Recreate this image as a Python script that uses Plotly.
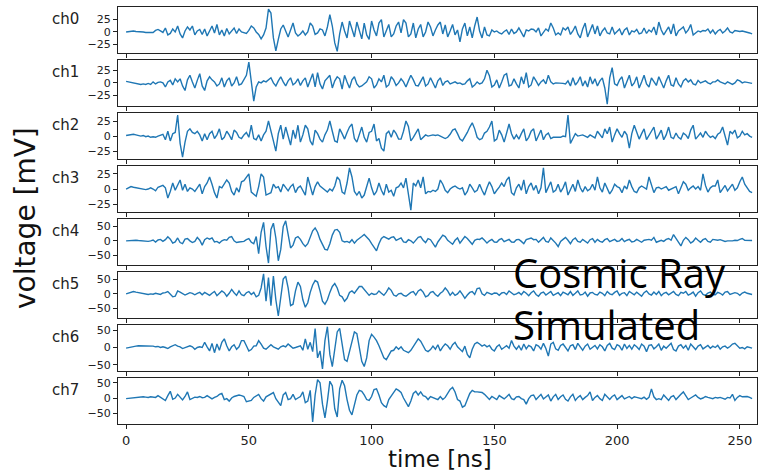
import plotly.graph_objects as go
from plotly.subplots import make_subplots

# ---- data (mV), one sample per ns ----
ch0 = [0,1,2,2,1,1,0,0,-1,-1,-2,-1,3,5,2,-1,
       8,-6,-3,6,0,12,-4,-12,2,10,4,12,-6,2,5,-5,
       6,-8,2,12,-2,15,-6,4,-8,7,-4,2,8,-3,6,0,
       -1,-3,3,12,8,0,-5,-14,-6,8,46,38,-12,-38,-15,6,
       14,2,-10,4,18,-2,-8,-4,2,-6,0,18,12,-5,-2,6,
       4,-8,10,35,12,-22,-39,-4,20,2,-12,22,4,-10,20,2,
       -14,18,-6,-15,22,4,-8,18,25,-10,2,15,-10,-4,12,20,
       -2,25,18,-10,-4,18,-12,6,15,-10,0,20,10,-8,4,14,
       20,-4,14,-10,2,15,-6,4,-20,6,18,-8,10,-12,12,30,
       2,-12,10,-6,-8,4,0,2,-2,-4,1,4,-5,6,-3,0,
       8,-2,-10,4,2,6,5,0,8,-8,-2,6,2,18,8,-6,
       -2,-6,8,4,10,-5,2,12,-4,-12,6,18,-10,2,15,-4,
       12,-8,2,8,-2,-4,10,-4,2,6,-6,4,8,-6,2,0,
       5,-4,-2,8,-3,4,0,10,-6,20,4,-6,2,10,-4,16,
       -8,2,6,10,-2,4,15,-6,-2,2,0,3,2,6,-2,4,
       -4,2,5,-2,2,8,0,-2,3,2,1,2,1,0,-2,-4]
ch1 = [3,2,1,0,-1,-2,-3,-2,-3,-1,-3,2,-2,1,2,0,
       -8,2,5,-4,8,2,8,-6,-15,6,15,2,-10,5,18,-6,
       -15,4,12,6,2,-6,-2,10,-8,4,10,-6,0,12,-4,-2,
       6,15,41,5,-36,-8,2,0,4,2,6,10,0,-6,4,12,
       2,-6,4,10,-4,0,8,-5,4,10,-8,6,18,-8,20,-2,
       -12,4,10,15,-10,4,12,8,-12,15,2,-10,6,12,-2,-8,
       -6,-2,2,12,8,-10,-4,8,2,15,-8,-4,12,6,-5,0,
       8,2,-8,4,15,6,-5,-6,4,12,-6,-2,10,-2,-10,4,
       10,-5,2,4,-2,0,2,-1,0,-3,-2,4,8,-8,-4,2,
       -2,0,8,25,14,-8,-4,6,-10,2,15,18,-6,-4,8,-2,
       -10,12,-2,20,-8,-4,12,4,-5,2,6,-2,15,2,-2,0,
       0,0,-1,-2,4,-6,10,-4,2,12,-6,4,-8,12,-2,8,
       -6,4,10,-10,-42,10,30,-2,-5,6,12,-10,2,15,-6,0,
       12,-10,2,15,-2,-8,10,2,-5,12,0,-10,4,15,-4,-6,
       10,-2,-8,4,8,2,6,-2,-4,5,0,2,4,0,-2,2,
       2,6,2,0,-2,2,-1,-3,0,6,4,0,2,1,0,-1]
ch2 = [1,2,3,3,2,1,0,1,-1,0,-2,-1,-2,0,2,3,
       -6,8,-8,4,6,35,-12,-35,-10,8,12,6,4,8,2,-8,
       4,-6,4,8,-4,2,12,-6,-2,8,2,-6,10,6,-2,-4,
       2,6,-2,18,-4,-6,2,-8,2,8,25,10,-8,-25,4,18,
       -5,15,-2,-15,10,-4,18,-10,2,18,12,-8,-15,10,4,-5,
       -10,2,10,25,8,-8,-10,12,4,-5,6,15,20,-4,-10,4,
       15,-2,-10,6,8,20,-8,-4,-20,-25,4,8,-2,10,4,-5,
       -5,8,25,16,-8,-2,5,12,-6,-2,2,0,1,2,1,2,
       0,-2,-4,-2,3,10,12,4,-5,-8,-2,6,15,22,12,-2,
       -6,-4,5,8,15,25,-8,-5,10,2,-10,6,20,4,-5,2,
       -5,4,12,-8,-2,8,12,-8,0,10,-6,2,5,-4,-2,-2,
       -2,-2,0,-1,35,-12,-4,4,0,1,2,0,-2,2,-1,-3,
       8,2,-3,12,4,15,-10,2,12,4,-2,8,2,-20,4,18,
       8,-5,4,12,-6,0,8,15,-5,2,10,-6,2,15,-2,-4,
       5,-2,-5,5,2,-4,10,18,-5,0,5,-2,8,2,-2,0,
       -4,3,6,15,-2,-15,8,4,10,-3,0,8,2,4,0,-2]
ch3 = [0,2,4,3,2,1,0,0,-1,0,2,0,-3,3,4,6,
       2,-15,-4,10,-2,6,15,-2,8,-4,2,0,-4,2,8,-8,
       4,10,20,8,-6,-15,4,2,8,15,10,-4,-10,2,-5,12,
       14,20,25,-5,-8,-12,4,25,20,-10,-8,-6,8,2,4,-5,
       8,2,-3,4,8,-6,2,5,-2,-10,20,6,-10,4,12,5,
       2,-2,-5,0,-3,5,20,15,-5,-8,10,35,20,-4,-10,-4,
       -15,-10,5,18,2,-10,-4,10,-2,-10,8,-5,-2,-12,2,4,
       10,2,18,-10,-35,10,5,15,2,20,-8,-4,-5,-2,-4,0,
       15,8,-2,-6,0,3,5,2,0,2,-10,-4,8,2,-5,-2,
       8,-2,-10,2,12,4,-8,-2,3,10,4,15,20,-6,-10,2,
       8,-2,15,-8,4,10,-2,6,-8,2,35,-6,4,12,-5,-2,
       8,-5,2,12,-10,-2,8,-4,15,2,-5,4,-3,0,8,-2,
       20,2,-5,10,2,-8,-2,8,4,2,-6,5,0,15,4,-4,
       -6,2,5,2,0,20,8,-6,2,3,0,2,4,-2,0,2,
       4,-8,2,12,8,-2,2,5,0,4,-2,25,6,-5,2,5,
       5,15,-6,0,6,-3,2,8,-2,2,12,20,8,2,-4,-6]
ch4 = [0,1,1,1,2,1,0,1,0,-2,0,3,-4,3,5,-2,
       4,14,6,-8,-4,10,-6,-10,6,8,0,-6,-2,12,2,-15,
       4,10,6,10,-4,-2,-8,0,4,2,12,15,0,-6,-4,-4,
       -2,4,8,-5,-10,15,-45,30,65,-20,-78,40,62,10,-70,-30,
       50,70,20,-25,-15,10,15,5,-10,-20,-10,15,35,45,30,5,
       -15,-30,-32,-10,20,38,40,30,0,-4,-2,-6,4,-8,2,10,
       15,22,14,4,-10,-25,-35,-10,8,15,10,6,12,14,2,5,
       10,-4,-6,4,0,-8,4,12,15,2,-6,8,4,-10,-22,-4,
       10,20,15,2,-5,-12,2,10,-8,6,15,8,-4,-12,2,6,
       5,10,2,-8,0,5,-4,-5,4,8,-3,2,5,-4,-5,4,
       5,-2,-10,4,8,10,4,5,-5,2,12,-2,-5,10,2,-8,
       -20,-2,5,12,2,-10,4,10,-2,-5,5,-2,-8,4,8,-5,
       5,-2,-5,4,8,-3,0,5,-2,0,8,-3,2,5,-4,-2,
       5,0,-5,2,3,5,2,12,-5,0,2,-2,5,8,2,22,
       8,-5,-18,2,12,4,-8,-2,10,2,-5,4,8,-2,-5,5,
       3,2,4,2,-2,0,-1,0,2,1,5,8,2,1,1,1]
ch5 = [0,3,6,8,6,4,2,0,-2,-2,0,-1,2,1,-2,3,
       4,8,-2,-10,-8,10,6,2,-4,0,4,2,-3,2,5,-3,
       5,0,-5,2,8,-6,2,10,4,-8,2,15,4,-5,10,-3,
       -6,4,8,-2,5,-10,-5,20,68,-25,55,-40,60,-20,-75,-10,
       50,60,20,-40,-35,10,40,25,-20,-45,-30,5,30,45,40,10,
       -25,-35,-20,5,25,35,20,-5,-10,-25,-15,5,10,2,15,25,
       25,15,2,-5,2,-2,0,10,2,-5,6,20,12,-4,-8,0,
       2,-5,-8,0,5,8,-4,10,15,6,-10,-6,5,8,-2,-8,
       2,8,20,10,-5,5,-5,0,10,-2,-15,-4,5,8,-2,18,
       20,0,-5,5,2,-2,3,2,-5,3,5,-2,10,2,-3,0,
       5,-3,8,2,-6,4,10,-2,-8,3,6,-4,2,8,-5,0,
       4,-6,6,2,-3,8,-5,2,10,-4,-2,6,-8,3,5,-2,
       -4,6,2,-6,8,0,-3,5,10,-5,2,4,-6,8,2,-3,
       6,-2,-8,4,10,0,-4,6,-2,8,-6,2,5,-3,4,8,
       -2,-6,5,2,8,-4,0,6,-8,4,10,-2,-5,3,6,-2,
       -3,5,2,-4,6,8,-2,0,4,2,-5,3,6,2,-1,-2]
ch6 = [-2,0,2,3,4,5,5,5,5,4,3,4,2,3,0,2,
       0,-3,2,5,8,4,2,-3,0,3,5,2,-5,0,2,0,
       15,2,-10,12,-15,10,-8,15,25,5,-10,2,8,-5,2,20,
       20,5,-10,-6,4,5,20,10,-2,-5,2,8,2,-2,-5,2,
       5,2,10,4,-2,0,2,5,-8,25,-5,15,-12,55,-30,-10,
       -62,20,60,-20,-55,0,45,55,5,-35,-40,-10,20,45,40,0,
       -40,-55,-30,20,38,30,20,5,-15,-30,-35,-20,-10,-8,2,-5,
       2,-8,-12,-15,-8,4,15,25,18,5,-8,-12,-6,4,-5,8,
       -10,2,10,5,-5,8,15,2,-6,-12,4,-20,-30,-5,10,15,
       10,4,8,2,6,-5,-10,2,8,-5,0,5,-2,20,4,-5,
       5,-8,10,-4,6,2,-10,8,4,-5,12,-3,-25,10,15,-4,
       -8,6,10,-2,-10,5,8,-6,12,2,-8,4,10,-5,2,6,
       -4,8,2,-10,6,12,-2,-6,8,4,-8,10,-3,6,-5,8,
       2,-6,10,4,-12,6,8,-4,2,10,-8,4,-2,6,12,-6,
       -10,4,8,-2,6,-8,10,2,-6,4,8,-4,2,6,-2,4,
       0,6,-5,2,4,-2,3,10,12,4,-2,0,-4,2,0,-2]
ch7 = [-2,-1,0,1,2,2,3,4,3,2,4,3,2,8,2,-5,
       -8,8,22,-4,0,12,2,-6,5,20,-5,0,3,2,5,1,
       2,8,2,-3,2,5,12,15,-5,-2,-10,0,5,8,10,8,
       5,-12,-10,-8,2,8,12,-2,-10,4,8,14,18,-2,-12,-25,
       10,18,-5,-2,12,-5,0,5,20,-15,-10,25,-78,10,60,50,
       -20,-65,-10,55,40,-35,-62,30,58,40,-5,-40,-55,-25,10,25,
       22,10,-5,-8,5,28,30,10,-15,-25,-30,-5,8,20,30,25,
       18,0,-15,-28,-10,15,22,10,20,8,5,-5,5,2,0,-5,
       5,-5,2,15,28,35,20,-5,-10,-30,-25,-5,15,25,20,20,
       20,18,12,2,-5,5,0,-5,8,2,-3,4,12,-2,-5,4,
       5,-2,-5,-20,-2,8,10,-5,2,12,-3,4,10,-10,4,12,
       -5,4,10,-4,-10,4,12,-8,2,8,-5,2,8,20,-8,2,
       8,-2,-8,12,2,-5,5,10,-5,2,8,-3,2,5,-2,4,
       2,0,-2,3,-4,2,30,4,-5,-2,-5,10,2,-8,4,8,
       -5,2,12,20,8,-5,0,5,10,2,-3,0,5,2,0,-2,
       2,0,2,-2,-4,2,0,12,-8,2,8,4,5,5,2,-2]

channels = [ch0, ch1, ch2, ch3, ch4, ch5, ch6, ch7]
names = ["ch0", "ch1", "ch2", "ch3", "ch4", "ch5", "ch6", "ch7"]
yticks_small = [-25, 0, 25]
yticks_large = [-50, 0, 50]
xticks = [0, 50, 100, 150, 200, 250]

W, H = 763, 472
ML, MR, MT, MB = 118, 6, 7, 48
PW = W - ML - MR
PH = H - MT - MB

fig = make_subplots(rows=8, cols=1, shared_xaxes=True, vertical_spacing=0.0156)
FONT = "DejaVu Sans"
for i, ch in enumerate(channels):
    t = list(range(len(ch)))
    fig.add_trace(go.Scatter(x=t, y=ch, mode="lines",
                             line=dict(color="#1f77b4", width=1.4),
                             showlegend=False, hoverinfo="skip"),
                  row=i + 1, col=1)
    lo, hi = min(ch), max(ch)
    pad = 0.05 * (hi - lo)
    tv = yticks_small if i < 4 else yticks_large
    fig.update_yaxes(range=[lo - pad, hi + pad], tickvals=tv,
                     ticktext=[str(v).replace("-", "\u2212") for v in tv],
                     showline=True, mirror=True, linecolor="#222", linewidth=1,
                     ticks="outside", ticklen=4, tickcolor="#222",
                     showgrid=False, zeroline=False, automargin=False,
                     tickfont=dict(family=FONT, size=11, color="#222"),
                     row=i + 1, col=1)
    fig.update_xaxes(range=[-3.3, 257], tickvals=xticks,
                     showline=True, mirror=True, linecolor="#222", linewidth=1,
                     ticks="outside", ticklen=4, tickcolor="#222",
                     showgrid=False, zeroline=False, automargin=False,
                     showticklabels=(i == 7),
                     tickfont=dict(family=FONT, size=13, color="#222"),
                     row=i + 1, col=1)
    yref = "y domain" if i == 0 else f"y{i+1} domain"
    fig.add_annotation(text=names[i], xref="paper", yref=yref,
                       x=(81 - ML) / PW, y=0.5, xanchor="right", yanchor="bottom",
                       showarrow=False,
                       font=dict(family=FONT, size=15, color="#222"))

fig.add_annotation(text="voltage [mV]", xref="paper", yref="paper",
                   x=(26 - ML) / PW, y=(H - MB - 218) / PH, textangle=-90,
                   xanchor="center", yanchor="middle", showarrow=False,
                   font=dict(family=FONT, size=28, color="#111"))
fig.add_annotation(text="time [ns]", xref="paper", yref="paper",
                   x=(440 - ML) / PW, y=(H - MB - 459) / PH,
                   xanchor="center", yanchor="middle", showarrow=False,
                   font=dict(family=FONT, size=23, color="#111"))
fig.add_annotation(text="Cosmic Ray<br>Simulated", xref="paper", yref="paper",
                   x=(511 - ML) / PW, y=(H - MB - 298) / PH, align="left",
                   xanchor="left", yanchor="middle", showarrow=False,
                   font=dict(family="Open Sans", size=40, color="#000"))

fig.update_layout(width=W, height=H, margin=dict(l=ML, r=MR, t=MT, b=MB),
                  paper_bgcolor="white", plot_bgcolor="white")
fig.write_html("out.html", config={"displayModeBar": False},
               post_script="document.body.style.margin='0';document.body.style.overflow='hidden';")
